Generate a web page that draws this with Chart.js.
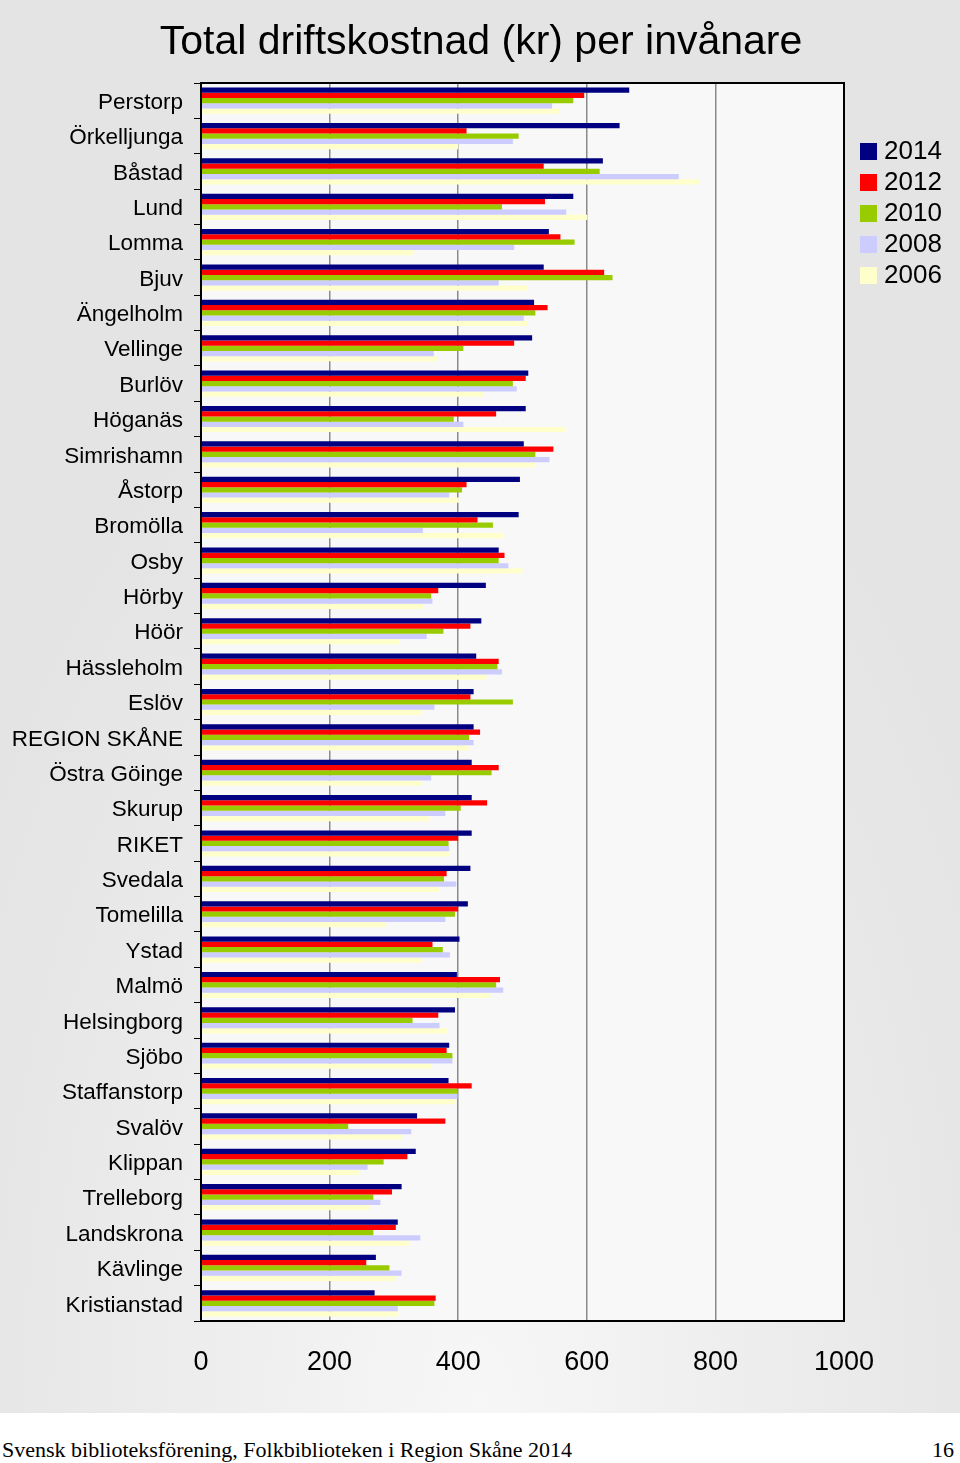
<!DOCTYPE html>
<html>
<head>
<meta charset="utf-8">
<script src="https://cdn.jsdelivr.net/npm/chart.js@4.4.1/dist/chart.umd.min.js"></script>
<style>
  body { margin: 0; background: #fff; width: 960px; height: 1463px; overflow: hidden; }
  #slide {
    position: absolute; left: 0; top: 0; width: 960px; height: 1413px;
    background: radial-gradient(ellipse 60% 80% at 50% 100%, #f7f7f7 0%, #ececec 55%, #e4e4e4 100%);
  }
  #title {
    position: absolute; left: 0; top: 17px; width: 962px; text-align: center;
    font: 41px "Liberation Sans", Arial, sans-serif; color: #000;
  }
  #legend { position: absolute; left: 860px; top: 135px; font: 26px "Liberation Sans", Arial, sans-serif; }
  #legend div { height: 31px; line-height: 30px; white-space: nowrap; }
  #legend span { display: inline-block; width: 17px; height: 17px; margin-right: 7px; vertical-align: -1px; }
  #footer {
    position: absolute; left: 2px; top: 1437px; font: 22px "Liberation Serif", "DejaVu Serif", serif; color: #000;
  }
  #page { position: absolute; right: 6px; top: 1437px; font: 22px "Liberation Serif", "DejaVu Serif", serif; }
</style>
</head>
<body>
<div id="slide">
  <canvas id="myChart" width="960" height="1413"></canvas>
  <div id="title">Total driftskostnad (kr) per invånare</div>
  <div id="legend"></div>
</div>
<div id="footer">Svensk biblioteksförening, Folkbiblioteken i Region Skåne 2014</div>
<div id="page">16</div>
<script>
// DATA
const kommuner = ["Perstorp", "Örkelljunga", "Båstad", "Lund", "Lomma", "Bjuv", "Ängelholm", "Vellinge",
  "Burlöv", "Höganäs", "Simrishamn", "Åstorp", "Bromölla", "Osby", "Hörby", "Höör", "Hässleholm",
  "Eslöv", "REGION SKÅNE", "Östra Göinge", "Skurup", "RIKET", "Svedala", "Tomelilla", "Ystad",
  "Malmö", "Helsingborg", "Sjöbo", "Staffanstorp", "Svalöv", "Klippan", "Trelleborg", "Landskrona",
  "Kävlinge", "Kristianstad"];

const years = ["2014", "2012", "2010", "2008", "2006"];

const v2014 = [666, 651, 625, 579, 541, 533, 518, 515, 509, 505, 502, 496, 494, 463, 443, 436, 428,
  424, 424, 421, 421, 421, 419, 415, 402, 398, 395, 386, 385, 336, 334, 312, 306, 272, 270];
const v2012 = [596, 413, 533, 535, 559, 627, 539, 487, 505, 459, 548, 413, 430, 472, 369, 419, 463,
  419, 434, 463, 445, 400, 382, 400, 360, 465, 369, 382, 421, 380, 321, 297, 303, 257, 365];
const v2010 = [579, 494, 620, 468, 581, 640, 520, 408, 485, 393, 520, 406, 454, 463, 358, 377, 461,
  485, 417, 452, 404, 385, 378, 395, 376, 459, 329, 391, 399, 229, 284, 268, 268, 293, 363];
const v2008 = [546, 485, 743, 568, 487, 463, 502, 362, 491, 408, 542, 386, 345, 478, 360, 351, 468,
  363, 424, 358, 380, 386, 397, 380, 387, 470, 371, 391, 399, 327, 259, 279, 341, 312, 306];
const v2006 = [557, 400, 775, 601, 330, 507, 507, 367, 439, 566, 519, 401, 470, 500, 346, 309, 444,
  344, 417, 344, 356, 387, 371, 288, 344, 450, 384, 359, 395, 313, 247, 262, 324, 302, 307];

const xTicks = [0, 200, 400, 600, 800, 1000];

const colors = ["#000080", "#ff0000", "#99cc00", "#ccccff", "#ffffcc"];
const series = [v2014, v2012, v2010, v2008, v2006];

const data = {
  labels: kommuner,
  datasets: years.map((y, i) => ({
    label: y,
    data: series[i],
    backgroundColor: colors[i],
    borderWidth: 0,
    barPercentage: 1.0,
    categoryPercentage: 0.74,
  })),
};

// plot area background + frame
const plotFrame = {
  id: "plotFrame",
  beforeDraw(chart) {
    const { ctx, chartArea: a } = chart;
    ctx.save();
    ctx.fillStyle = "#f8f8f8";
    ctx.fillRect(a.left, a.top, a.right - a.left, a.bottom - a.top);
    ctx.restore();
  },
  afterDraw(chart) {
    const { ctx, chartArea: a } = chart;
    ctx.save();
    ctx.strokeStyle = "#000";
    ctx.lineWidth = 2;
    ctx.strokeRect(a.left, a.top, a.right - a.left, a.bottom - a.top);
    ctx.restore();
  },
};

const config = {
  type: "bar",
  data: data,
  options: {
    indexAxis: "y",
    responsive: false,
    animation: false,
    devicePixelRatio: 1,
    layout: { padding: { top: 83, right: 116, bottom: 0, left: 0 } },
    plugins: {
      legend: { display: false },
      title: { display: false },
      tooltip: { enabled: false },
    },
    scales: {
      x: {
        min: 0,
        max: 1000,
        afterBuildTicks: (s) => { s.ticks = xTicks.map((v) => ({ value: v })); },
        afterFit: (s) => { s.height = 92; },
        ticks: {
          color: "#000", padding: 25,
          font: { family: "Liberation Sans", size: 27 },
          callback: (v) => String(v),
        },
        grid: { color: "#8a8a8a", lineWidth: 1.5, drawTicks: false },
        border: { display: false },
      },
      y: {
        afterFit: (s) => { s.width = 201; },
        ticks: {
          color: "#000", padding: 11, autoSkip: false, labelOffset: 2,
          font: { family: "Liberation Sans", size: 22.5 },
        },
        grid: { drawOnChartArea: false, drawTicks: true, tickLength: 7, color: "#000", offset: true },
        border: { display: true, color: "#000", width: 2 },
      },
    },
  },
  plugins: [plotFrame],
};

const myChart = new Chart(document.getElementById("myChart"), config);

// legend
const legend = document.getElementById("legend");
for (const ds of myChart.data.datasets) {
  const row = document.createElement("div");
  const box = document.createElement("span");
  box.style.background = ds.backgroundColor;
  row.appendChild(box);
  row.appendChild(document.createTextNode(ds.label));
  legend.appendChild(row);
}
</script>
</body>
</html>
